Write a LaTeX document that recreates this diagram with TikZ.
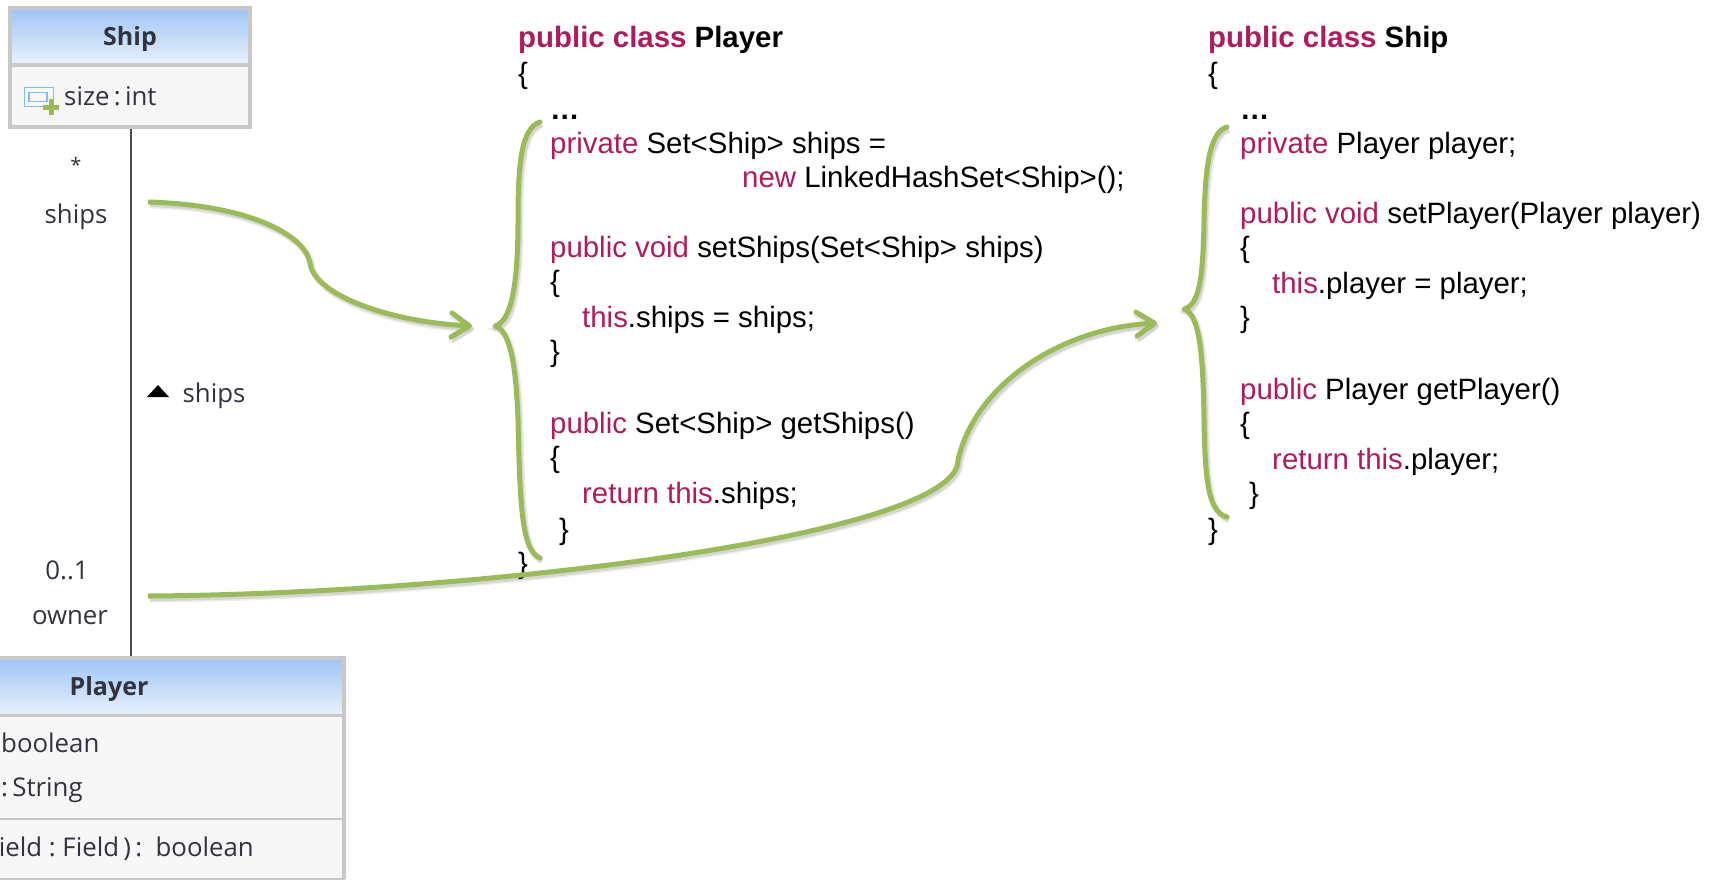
\documentclass[tikz,border=0pt]{standalone}
\usepackage{fontspec}
\setmainfont{Liberation Sans}
\newfontfamily\uifont{Open Sans}
\usepackage{xcolor}
\usetikzlibrary{calc}
\usetikzlibrary{positioning}
\usetikzlibrary{arrows.meta}
\definecolor{keyword}{HTML}{B01A5E}
\definecolor{curvegreen}{HTML}{9BBB59}
\definecolor{uiborder}{HTML}{C8C8C8}
\definecolor{uifill}{HTML}{F7F7F7}
\definecolor{uitext}{HTML}{33333F}
\definecolor{headtop}{HTML}{9FC4F5}
\definecolor{headbot}{HTML}{EAF2FB}
\definecolor{iconblue}{HTML}{85BBF2}
\newcommand{\kw}[1]{\textcolor{keyword}{#1}}
\tikzstyle{codeline} = [anchor=base west, inner sep=0pt, font=\fontsize{29.4}{29.4}\selectfont]
\tikzstyle{uilabel} = [inner sep=0pt, text=uitext, font=\uifont\fontsize{25.8}{25.8}\selectfont]
\tikzstyle{uititle} = [inner sep=0pt, text=uitext, font=\uifont\bfseries\fontsize{25}{25}\selectfont]
\tikzstyle{uibox} = [draw=uiborder, line width=4pt, fill=uifill, outer sep=0pt]
\tikzstyle{uihead} = [draw=uiborder, line width=4pt, top color=headtop, bottom color=headbot, outer sep=0pt]
\tikzstyle{greencurve} = [draw=curvegreen, line width=5pt, line join=round, preaction={draw=black, opacity=.07, line width=7pt, transform canvas={shift={(2pt,-3pt)}}}, preaction={draw=black, opacity=.1, line width=4pt, transform canvas={shift={(2pt,-3pt)}}}]
\tikzstyle{greenarrow} = [greencurve, -{Straight Barb[length=18pt,width=24pt,round]}]
\begin{document}
\begin{tikzpicture}[x=1pt,y=-1pt]
\useasboundingbox (0,0) rectangle (1716,879);
\begin{scope}
\clip (0,0) rectangle (1716,879);

% ship box
\node[uihead, minimum width=240pt, minimum height=57pt] (ship_head) at (130,36.5) {};
\node[uibox, minimum width=240pt, minimum height=62pt, below=0pt of ship_head] (ship_body) {};
\node[uititle] (ship_title) at (130,39) {Ship};
\node[uilabel, anchor=base west] (ship_size) at (64,105) {size\,:\,int};
\node[draw=iconblue, line width=1.5pt, minimum width=29pt, minimum height=19pt, inner sep=0pt] (ship_icon) at (39,97) {};
\node[draw=iconblue, line width=1.5pt, minimum width=18pt, minimum height=9pt, inner sep=0pt] (ship_icon_in) at (38,97) {};
\node[fill=curvegreen, minimum width=16pt, minimum height=5pt, inner sep=0pt] (ship_plus_h) at (51,107) {};
\node[fill=curvegreen, minimum width=5pt, minimum height=16pt, inner sep=0pt] (ship_plus_v) at (51,107) {};

% player box
\node[uihead, minimum width=348pt, minimum height=58pt] (player_head) at (170,687) {};
\node[uibox, line width=2pt, minimum width=348pt, minimum height=103pt, below=0pt of player_head] (player_attrs) {};
\node[uibox, line width=2pt, minimum width=348pt, minimum height=60pt, below=0pt of player_attrs] (player_ops) {};
\draw[uiborder, line width=4pt] (player_head.north east) -- (player_ops.south east);
\node[uititle] (player_title) at (109,689) {Player};
\node[uilabel, anchor=base west] (player_a) at (1,752) {boolean};
\node[uilabel, anchor=base west] (player_b) at (1,796) {:\,String};
\node[uilabel, anchor=base east] (player_c) at (254,856) {ield\ :\ Field\,)\,:\ \ boolean};

% association
\coordinate (line_top) at (131,129);
\coordinate (line_bot) at (131,656);
\draw[black!70, line width=1.8pt] (line_top) -- (line_bot);
\node[uilabel, font=\uifont\fontsize{20}{20}\selectfont] (lbl_star) at (76,165) {*};
\node[uilabel] (lbl_ships) at (76,217) {ships};
\node[uilabel] (lbl_mult) at (67,570) {0..1};
\node[uilabel] (lbl_owner) at (70,618) {owner};
\node[uilabel] (lbl_role) at (214,396) {ships};
\fill[black] (147,397) -- (169,397) -- (158,385) -- cycle;

% left listing
\node[codeline] (p1) at (518,47) {\textbf{\kw{public class} Player}};
\node[codeline] (p2) at (518,83) {\{};
\node[codeline] (p3) at (550,119) {\textbf{\ldots}};
\node[codeline] (p4) at (550,153) {\kw{private} Set<Ship> ships =};
\node[codeline] (p5) at (742,187) {\kw{new} LinkedHashSet<Ship>();};
\node[codeline] (p6) at (550,257) {\kw{public void} setShips(Set<Ship> ships)};
\node[codeline] (p7) at (550,291) {\{};
\node[codeline] (p8) at (582,327) {\kw{this}.ships = ships;};
\node[codeline] (p9) at (550,361) {\}};
\node[codeline] (p10) at (550,433) {\kw{public} Set<Ship> getShips()};
\node[codeline] (p11) at (550,467) {\{};
\node[codeline] (p12) at (582,503) {\kw{return this}.ships;};
\node[codeline] (p13) at (559,539) {\}};
\node[codeline] (p14) at (518,573) {\}};

% right listing
\node[codeline] (s1) at (1208,47) {\textbf{\kw{public class} Ship}};
\node[codeline] (s2) at (1208,83) {\{};
\node[codeline] (s3) at (1240,119) {\textbf{\ldots}};
\node[codeline] (s4) at (1240,153) {\kw{private} Player player;};
\node[codeline] (s5) at (1240,223) {\kw{public void} setPlayer(Player player)};
\node[codeline] (s6) at (1240,257) {\{};
\node[codeline] (s7) at (1272,293) {\kw{this}.player = player;};
\node[codeline] (s8) at (1240,327) {\}};
\node[codeline] (s9) at (1240,399) {\kw{public} Player getPlayer()};
\node[codeline] (s10) at (1240,433) {\{};
\node[codeline] (s11) at (1272,469) {\kw{return this}.player;};
\node[codeline] (s12) at (1249,503) {\}};
\node[codeline] (s13) at (1208,539) {\}};

% left brace
\coordinate (pb_top) at (540,122);
\coordinate (pb_tip) at (495,326);
\coordinate (pb_bot) at (540,558);
\draw[greencurve, line cap=round] (pb_top) .. controls (520,128) and (518,170) .. (518,220) .. controls (518,290) and (510,322) .. (pb_tip) .. controls (510,330) and (516,365) .. (518,420) .. controls (520,510) and (522,550) .. (pb_bot);

% right brace
\coordinate (sb_top) at (1227,127);
\coordinate (sb_tip) at (1184,309);
\coordinate (sb_bot) at (1227,517);
\draw[greencurve, line cap=round] (sb_top) .. controls (1208,132) and (1205,175) .. (1204,220) .. controls (1203,280) and (1199,305) .. (sb_tip) .. controls (1199,314) and (1203,350) .. (1204,420) .. controls (1205,480) and (1208,512) .. (sb_bot);

% arrows
\coordinate (ships_start) at (148,202);
\coordinate (ships_kink) at (310,263);
\coordinate (ships_end) at (472,326);
\coordinate (owner_start) at (148,596);
\coordinate (owner_kink) at (958,460);
\coordinate (owner_end) at (1157,323);
\draw[greenarrow] (ships_start) .. controls (250,205) and (305,235) .. (ships_kink) .. controls (314,295) and (390,322) .. (ships_end);
\draw[greenarrow] (owner_start) .. controls (480,594) and (960,535) .. (owner_kink) .. controls (975,385) and (1060,328) .. (owner_end);
\end{scope}
\end{tikzpicture}
\end{document}
